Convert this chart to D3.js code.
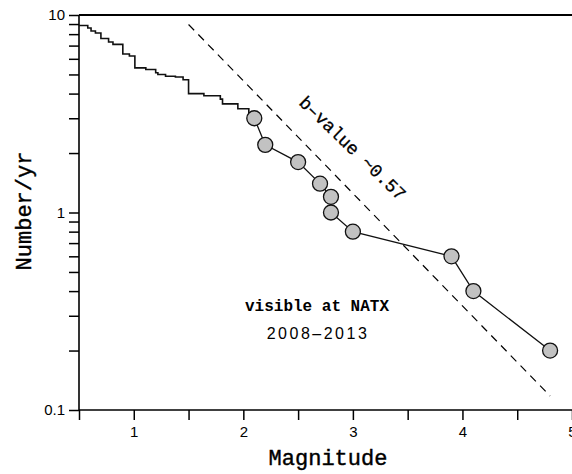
<!DOCTYPE html>
<html>
<head>
<meta charset="utf-8">
<script src="https://cdn.jsdelivr.net/npm/d3@7"></script>
<style>
  html, body { margin: 0; padding: 0; background: #fff; }
  svg { display: block; }
  .tick text { font-family: "Liberation Sans", Arial, sans-serif; font-size: 15px; fill: #000; }
</style>
</head>
<body>
<svg id="chart" width="572" height="474"></svg>
<script>
// Cumulative annual rate of events (stair-step part, small magnitudes)
const stepMag  = [0.50, 0.58, 0.61, 0.65, 0.70, 0.77, 0.81, 0.90, 0.96, 1.01, 1.11, 1.20, 1.22, 1.29, 1.38, 1.45, 1.50, 1.64, 1.79, 1.81, 1.95, 2.05, 2.10];
const stepRate = [8.85, 8.6, 8.3, 8.1, 7.6, 7.3, 7.1, 6.35, 6.2, 5.4, 5.3, 5.1, 5.0, 4.9, 4.85, 4.7, 4.0, 3.9, 3.75, 3.55, 3.35, 3.2, 3.0];

// Individual larger events (circles)
const eventMag  = [2.1, 2.2, 2.5, 2.7, 2.8, 2.8, 3.0, 3.9, 4.1, 4.8];
const eventRate = [3.0, 2.2, 1.8, 1.4, 1.2, 1.0, 0.8, 0.6, 0.4, 0.2];

// Gutenberg-Richter reference line: log10 N = a - b*M
const bValue = 0.57;
const aValue = 1.807;
const fitMag = [1.5, 4.8];

// Axis ticks
const xTicks = [0.5, 1, 1.5, 2, 2.5, 3, 3.5, 4, 4.5, 5];
const xLabels = [1, 2, 3, 4, 5];
const yMajor = [0.1, 1, 10];
const yMinor = [0.2, 0.3, 0.4, 0.5, 0.6, 0.7, 0.8, 0.9, 2, 3, 4, 5, 6, 7, 8, 9];
const yLabels = {0.1: "0.1", 1: "1", 10: "10"};

const svg = d3.select("#chart");
const x = d3.scaleLinear().domain([0.5, 5]).range([79, 572]);
const y = d3.scaleLog().domain([0.1, 10]).range([410, 15]);

const tickFont = "Liberation Sans, Arial, sans-serif";
const monoFont = "Liberation Mono, Courier New, monospace";

// top frame line
svg.append("line")
  .attr("x1", x(0.5)).attr("x2", x(5))
  .attr("y1", y(10)).attr("y2", y(10))
  .attr("stroke", "#000").attr("stroke-width", 2);

// x axis
const xAxis = svg.append("g")
  .attr("transform", `translate(0,${y(0.1)})`)
  .call(d3.axisBottom(x).tickValues(xTicks).tickSize(10).tickPadding(6)
    .tickFormat(d => xLabels.includes(d) ? String(d) : ""));
xAxis.attr("font-size", 15).attr("font-family", tickFont);
xAxis.select(".domain").attr("d", `M${x(0.5)},0H${x(5)}`).attr("stroke-width", 1.6);
xAxis.selectAll(".tick line").attr("stroke-width", 1.5);

// y axis
const yAxis = svg.append("g")
  .attr("transform", `translate(${x(0.5)},0)`)
  .call(d3.axisLeft(y).tickValues(yMajor.concat(yMinor)).tickSize(10).tickPadding(4)
    .tickFormat(d => yLabels[d] || ""));
yAxis.attr("font-size", 15).attr("font-family", tickFont);
yAxis.select(".domain").attr("d", `M0,${y(10)}V${y(0.1)}`).attr("stroke-width", 1.6);
yAxis.selectAll(".tick line").attr("stroke-width", 1.5);

// axis titles
svg.append("text")
  .attr("x", 328).attr("y", 465)
  .attr("text-anchor", "middle")
  .attr("font-family", monoFont).attr("font-size", 22)
  .attr("fill", "#000").attr("stroke", "#000").attr("stroke-width", 0.4)
  .text("Magnitude");

svg.append("text")
  .attr("transform", "translate(31,211) rotate(-90)")
  .attr("text-anchor", "middle")
  .attr("font-family", monoFont).attr("font-size", 22)
  .attr("fill", "#000").attr("stroke", "#000").attr("stroke-width", 0.4)
  .text("Number/yr");

// dashed b-value line
const fitLine = d3.line()
  .x(d => x(d))
  .y(d => y(Math.pow(10, aValue - bValue * d)));
svg.append("path")
  .datum(fitMag)
  .attr("d", fitLine)
  .attr("fill", "none")
  .attr("stroke", "#000")
  .attr("stroke-width", 1.2)
  .attr("stroke-dasharray", "8,6");

// stair-step cumulative curve
const stepData = stepMag.map((m, i) => [m, stepRate[i]]);
svg.append("path")
  .datum(stepData)
  .attr("d", d3.line().x(d => x(d[0])).y(d => y(d[1])).curve(d3.curveStepAfter))
  .attr("fill", "none")
  .attr("stroke", "#111")
  .attr("stroke-width", 1.6);

// polyline through individual events
const eventData = eventMag.map((m, i) => [m, eventRate[i]]);
svg.append("path")
  .datum(eventData)
  .attr("d", d3.line().x(d => x(d[0])).y(d => y(d[1])))
  .attr("fill", "none")
  .attr("stroke", "#111")
  .attr("stroke-width", 1.3);

svg.selectAll("circle.event")
  .data(eventData)
  .join("circle")
  .attr("class", "event")
  .attr("cx", d => x(d[0]))
  .attr("cy", d => y(d[1]))
  .attr("r", 7.5)
  .attr("fill", "#c2c2c2")
  .attr("stroke", "#111")
  .attr("stroke-width", 1.3);

// annotations
svg.append("text")
  .attr("transform", "translate(353,148) rotate(44)")
  .attr("text-anchor", "middle")
  .attr("dy", "0.35em")
  .attr("font-family", monoFont).attr("font-size", 18)
  .attr("fill", "#000").attr("stroke", "#000").attr("stroke-width", 0.3)
  .text("b\u2013value ~0.57");

svg.append("text")
  .attr("x", 317).attr("y", 311)
  .attr("text-anchor", "middle")
  .attr("font-family", monoFont).attr("font-size", 16).attr("font-weight", "bold")
  .attr("fill", "#000")
  .text("visible at NATX");

svg.append("text")
  .attr("x", 318).attr("y", 339)
  .attr("text-anchor", "middle")
  .attr("font-family", tickFont).attr("font-size", 16)
  .attr("letter-spacing", 2.5)
  .attr("fill", "#000")
  .text("2008\u20132013");
</script>
</body>
</html>
